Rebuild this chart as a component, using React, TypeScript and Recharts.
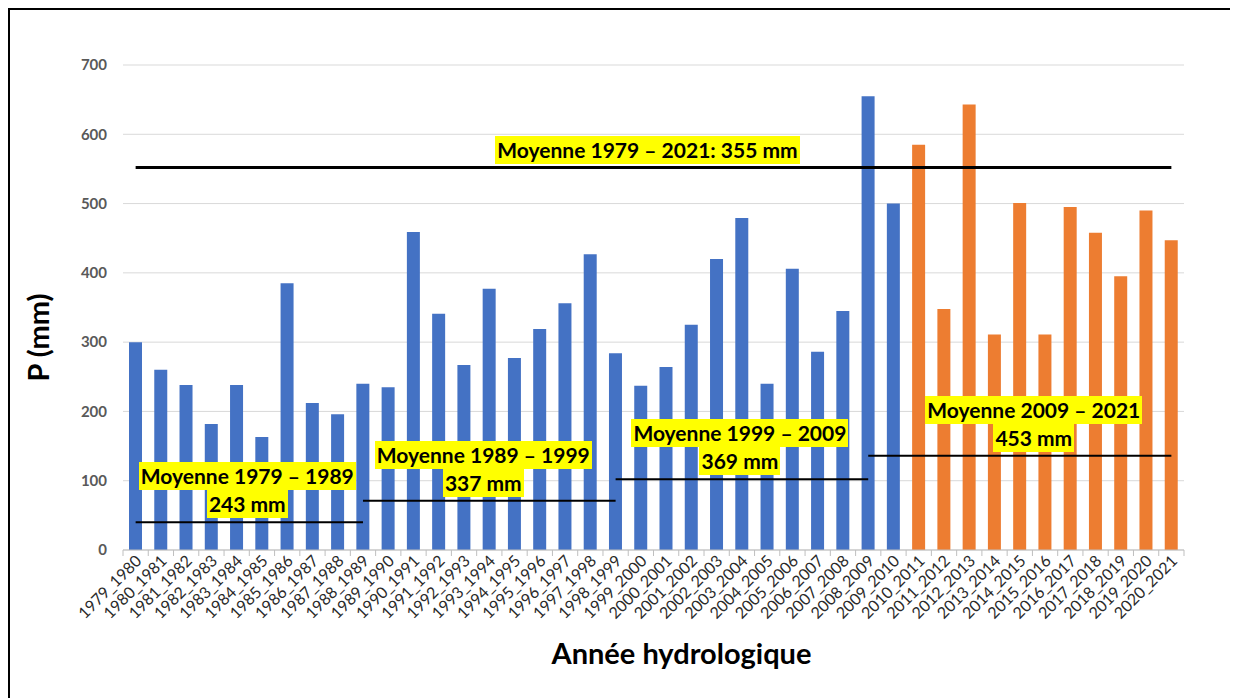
import { Bar, CartesianGrid, Cell, ComposedChart, ReferenceLine, XAxis, YAxis } from "recharts";

const years = [
  "1979_1980", "1980_1981", "1981_1982", "1982_1983", "1983_1984", "1984_1985",
  "1985_1986", "1986_1987", "1987_1988", "1988_1989", "1989_1990", "1990_1991",
  "1991_1992", "1992_1993", "1993_1994", "1994_1995", "1995_1996", "1996_1997",
  "1997_1998", "1998_1999", "1999_2000", "2000_2001", "2001_2002", "2002_2003",
  "2003_2004", "2004_2005", "2005_2006", "2006_2007", "2007_2008", "2008_2009",
  "2009_2010", "2010_2011", "2011_2012", "2012_2013", "2013_2014", "2014_2015",
  "2015_2016", "2016_2017", "2017_2018", "2018_2019", "2019_2020", "2020_2021",
];

// P (mm) per hydrological year
const precipitation = [
  300, 260, 238, 182, 238, 163, 385, 212, 196, 240, 235, 459, 341, 267, 377,
  277, 319, 356, 427, 284, 237, 264, 325, 420, 479, 240, 406, 286, 345, 655,
  500, 585, 348, 643, 311, 501, 311, 495, 458, 395, 490, 447,
];

// bars from this year on are orange
const recentFrom = "2010_2011";

const periodNames = ["Moyenne 1979 – 1989", "Moyenne 1989 – 1999", "Moyenne 1999 – 2009", "Moyenne 2009 – 2021"];
const periodMeans = ["243 mm", "337 mm", "369 mm", "453 mm"];
const periodFrom = ["1979_1980", "1988_1989", "1998_1999", "2008_2009"];
const periodTo = ["1988_1989", "1998_1999", "2008_2009", "2020_2021"];
// height at which each mean line is drawn in the figure
const periodLevels = [40, 71, 102, 136];

const overallLabel = "Moyenne 1979 – 2021: 355 mm";
const overallLevel = 552;

const yTicks = [0, 100, 200, 300, 400, 500, 600, 700];

const BLUE = "#4472C4";
const ORANGE = "#ED7D31";
const GRID = "#d9d9d9";
const FONT = "Lato, 'Open Sans', sans-serif";

const W = 1226;
const H = 690;
const margin = { top: 55, right: 52, bottom: 25, left: 5 };
const Y_W = 108;
const step = (W - margin.left - margin.right - Y_W) / years.length;

const data = years.map((year, i) => ({ year, p: precipitation[i] }));
const recentIdx = years.indexOf(recentFrom);

function XTick(props: any) {
  const { x, y, payload, index } = props;
  const half = step / 2;
  const tx = x + 7;
  const ty = y + 12;
  return (
    <g>
      <line x1={x - half} x2={x - half} y1={y} y2={y + 6} stroke="#bfbfbf" />
      {index === years.length - 1 && <line x1={x + half} x2={x + half} y1={y} y2={y + 6} stroke="#bfbfbf" />}
      <text
        x={tx}
        y={ty}
        transform={`rotate(-45 ${tx} ${ty})`}
        textAnchor="end"
        fontSize={16}
        fontFamily={FONT}
        fill="#2a2a2a"
      >
        {payload.value}
      </text>
    </g>
  );
}

function MeanTag({ viewBox, lines, shift = 0 }: any) {
  if (!viewBox) return null;
  const cx = viewBox.x + viewBox.width / 2 + shift;
  const h = lines.length * 28;
  return (
    <foreignObject x={cx - 200} y={viewBox.y - h - 4} width={400} height={h}>
      <div
        style={{
          display: "flex",
          flexDirection: "column",
          alignItems: "center",
          fontFamily: FONT,
          fontWeight: 700,
          fontSize: 21,
          color: "#000",
        }}
      >
        {lines.map((t: string) => (
          <span
            key={t}
            style={{ display: "inline-block", background: "#ffff00", lineHeight: "28px", padding: "0 2px", whiteSpace: "nowrap" }}
          >
            {t}
          </span>
        ))}
      </div>
    </foreignObject>
  );
}

function YTitle({ viewBox }: any) {
  if (!viewBox) return null;
  const x = viewBox.x + 22;
  const y = viewBox.y + viewBox.height / 2 + 30;
  return (
    <text x={x} y={y} transform={`rotate(-90 ${x} ${y})`} textAnchor="middle" dominantBaseline="central"
      fontFamily={FONT} fontWeight={700} fontSize={29} fill="#000">
      P (mm)
    </text>
  );
}

function XTitle({ viewBox }: any) {
  if (!viewBox) return null;
  return (
    <text x={viewBox.x + viewBox.width / 2 + 28} y={viewBox.y + 114} textAnchor="middle"
      fontFamily={FONT} fontWeight={700} fontSize={29} fill="#000">
      Année hydrologique
    </text>
  );
}

// mean-line shifts of the tags, as placed in the figure
const tagShift = [-2, -6, -2, 14];

export default function App() {
  return (
    <div style={{ width: 1230, height: 700, border: "2px solid #000", boxSizing: "border-box", background: "#fff" }}>
      <ComposedChart width={W} height={H} data={data} margin={margin}>
        <CartesianGrid vertical={false} stroke={GRID} />
        <XAxis
          dataKey="year"
          interval={0}
          height={125}
          tickSize={0}
          tickMargin={0}
          tickLine={false}
          axisLine={{ stroke: "#bfbfbf" }}
          tick={<XTick />}
          label={<XTitle />}
        />
        <YAxis
          width={Y_W}
          domain={[0, 700]}
          ticks={yTicks}
          axisLine={false}
          tickLine={false}
          tickSize={0}
          tickMargin={16}
          tick={{ fontFamily: FONT, fontWeight: 700, fontSize: 15, fill: "#595959" }}
          label={<YTitle />}
        />
        <Bar dataKey="p" barSize={13} isAnimationActive={false}>
          {data.map((d, i) => (
            <Cell key={d.year} fill={i >= recentIdx ? ORANGE : BLUE} />
          ))}
        </Bar>
        {periodNames.map((name, i) => (
          <ReferenceLine
            key={name}
            segment={[
              { x: periodFrom[i], y: periodLevels[i] },
              { x: periodTo[i], y: periodLevels[i] },
            ]}
            stroke="#000"
            strokeWidth={2}
            label={<MeanTag lines={[name, periodMeans[i]]} shift={tagShift[i]} />}
          />
        ))}
        <ReferenceLine
          segment={[
            { x: years[0], y: overallLevel },
            { x: years[years.length - 1], y: overallLevel },
          ]}
          stroke="#000"
          strokeWidth={3}
          label={<MeanTag lines={[overallLabel]} shift={-6} />}
        />
      </ComposedChart>
    </div>
  );
}
